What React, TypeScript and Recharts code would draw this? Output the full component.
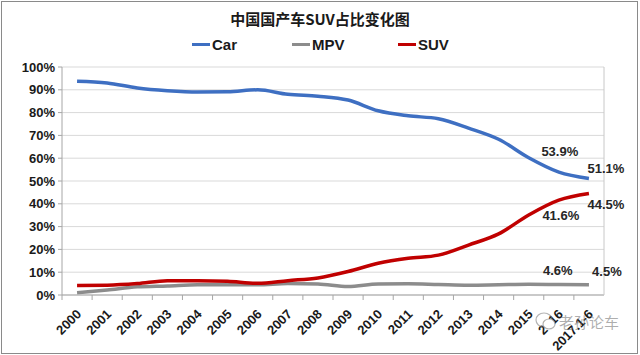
import React from "react";
import { CartesianGrid, Line, LineChart, XAxis, YAxis } from "recharts";

const years = [
  "2000", "2001", "2002", "2003", "2004", "2005", "2006", "2007", "2008",
  "2009", "2010", "2011", "2012", "2013", "2014", "2015", "2016", "2017.1-6",
];
const carShare = [93.8, 93.0, 90.8, 89.6, 89.0, 89.1, 90.0, 88.0, 87.2, 85.5, 80.8, 78.6, 77.3, 73.2, 68.3, 60.2, 53.9, 51.1];
const mpvShare = [1.0, 2.2, 3.6, 4.0, 4.5, 4.5, 4.5, 5.0, 4.8, 3.7, 4.8, 4.9, 4.6, 4.3, 4.5, 4.7, 4.6, 4.5];
const suvShare = [4.2, 4.3, 5.0, 6.3, 6.3, 6.0, 5.1, 6.3, 7.5, 10.3, 13.9, 16.1, 17.5, 21.9, 26.8, 35.1, 41.6, 44.5];
const yTicks = [0, 10, 20, 30, 40, 50, 60, 70, 80, 90, 100];

const data = years.map((year, i) => ({
  year,
  Car: carShare[i],
  MPV: mpvShare[i],
  SUV: suvShare[i],
}));

const series = [
  { key: "Car", color: "#3e6fc2", legendLeft: 192 },
  { key: "MPV", color: "#8c8c8c", legendLeft: 292 },
  { key: "SUV", color: "#c00000", legendLeft: 398 },
];

const font = "'Liberation Sans', Arial, sans-serif";
const chartH = 355;
const xAxisH = 60;
const axisY = chartH - xAxisH;
const halfBand = (604 - 62) / years.length / 2;

// labels on the last two points, offsets relative to the point
const labelOffsets: Record<string, [number, number][]> = {
  Car: [[1, -21], [17, -10]],
  MPV: [[-1, -14], [18, -13]],
  SUV: [[2, 15], [17, 11]],
};

function makeDot(key: string) {
  return (props: any) => {
    const { cx, cy, index, value } = props;
    const pos = index - (years.length - 2);
    if (pos < 0) return <g key={`${key}-${index}`} />;
    const [dx, dy] = labelOffsets[key][pos];
    const v = Array.isArray(value) ? value[1] : value;
    return (
      <text
        key={`${key}-${index}`}
        x={cx + dx}
        y={cy + dy}
        textAnchor="middle"
        dominantBaseline="central"
        fontFamily={font}
        fontWeight="bold"
        fontSize={13}
        fill="#262626"
      >
        {v.toFixed(1)}%
      </text>
    );
  };
}

// tick marks sit on category boundaries, like Excel
const XTick = (props: any) => {
  const { x, y, payload } = props;
  return (
    <g>
      <line x1={x - halfBand} x2={x - halfBand} y1={axisY} y2={axisY + 5} stroke="#a6a6a6" />
      <text
        x={x + 5}
        y={y + 12}
        transform={`rotate(-45 ${x + 5} ${y + 12})`}
        textAnchor="end"
        fontFamily={font}
        fontWeight="bold"
        fontSize={13}
        fill="#1a1a1a"
      >
        {payload.value}
      </text>
    </g>
  );
};

export default function App() {
  return (
    <div style={{ position: "absolute", left: 0, top: 0, width: 640, height: 355, background: "#fff" }}>
      <div
        style={{
          position: "absolute",
          left: 1,
          top: 1,
          width: 635,
          height: 351,
          border: "1px solid #8a8a8a",
        }}
      />
      <div
        style={{
          position: "absolute",
          top: 8,
          width: 640,
          textAlign: "center",
          fontFamily: "'Noto Sans CJK SC', sans-serif",
          fontWeight: "bold",
          fontSize: 15,
          color: "#1a1a1a",
        }}
      >
        中国国产车SUV占比变化图
      </div>
      {series.map((s) => (
        <div
          key={s.key}
          style={{
            position: "absolute",
            left: s.legendLeft,
            top: 36,
            display: "flex",
            alignItems: "center",
            fontFamily: font,
          }}
        >
          <span style={{ display: "inline-block", width: 18, height: 3, background: s.color, marginRight: 2 }} />
          <span style={{ fontWeight: "bold", fontSize: 15, color: "#1a1a1a" }}>{s.key}</span>
        </div>
      ))}
      <LineChart
        width={640}
        height={chartH}
        data={data}
        margin={{ top: 67, right: 0, bottom: 0, left: 0 }}
        style={{ position: "absolute", left: 0, top: 0 }}
      >
        <CartesianGrid vertical={false} stroke="#d9d9d9" />
        <XAxis
          dataKey="year"
          interval={0}
          tick={<XTick />}
          tickLine={false}
          padding={{ left: halfBand, right: halfBand }}
          axisLine={{ stroke: "#a6a6a6" }}
          height={xAxisH}
        />
        <YAxis
          domain={[0, 100]}
          ticks={yTicks}
          interval={0}
          width={62}
          tickFormatter={(v: number) => `${v}%`}
          tickSize={4}
          tickMargin={3}
          tickLine={{ stroke: "#a6a6a6" }}
          axisLine={{ stroke: "#a6a6a6" }}
          tick={{ fontFamily: font, fontWeight: "bold", fontSize: 13, fill: "#1a1a1a" }}
        />
        <YAxis
          yAxisId="frame"
          orientation="right"
          domain={[0, 100]}
          width={36}
          tick={false}
          tickLine={false}
          axisLine={{ stroke: "#c8c8c8" }}
        />
        {series.map((s) => (
          <Line
            key={s.key}
            type="monotone"
            dataKey={s.key}
            stroke={s.color}
            strokeWidth={3.5}
            dot={makeDot(s.key)}
            activeDot={false}
            isAnimationActive={false}
          />
        ))}
      </LineChart>
      <svg width={24} height={22} style={{ position: "absolute", left: 534, top: 310 }}>
        <ellipse cx={10} cy={10} rx={8} ry={7} fill="none" stroke="rgba(130,130,130,0.6)" strokeWidth={1.2} />
        <ellipse cx={15} cy={14} rx={6} ry={5} fill="#fff" stroke="rgba(130,130,130,0.6)" strokeWidth={1.2} />
      </svg>
      <div
        style={{
          position: "absolute",
          left: 559,
          top: 311,
          fontFamily: "'Noto Sans CJK SC', sans-serif",
          fontSize: 15,
          color: "rgba(120,120,120,0.6)",
        }}
      >
        老孙论车
      </div>
    </div>
  );
}
